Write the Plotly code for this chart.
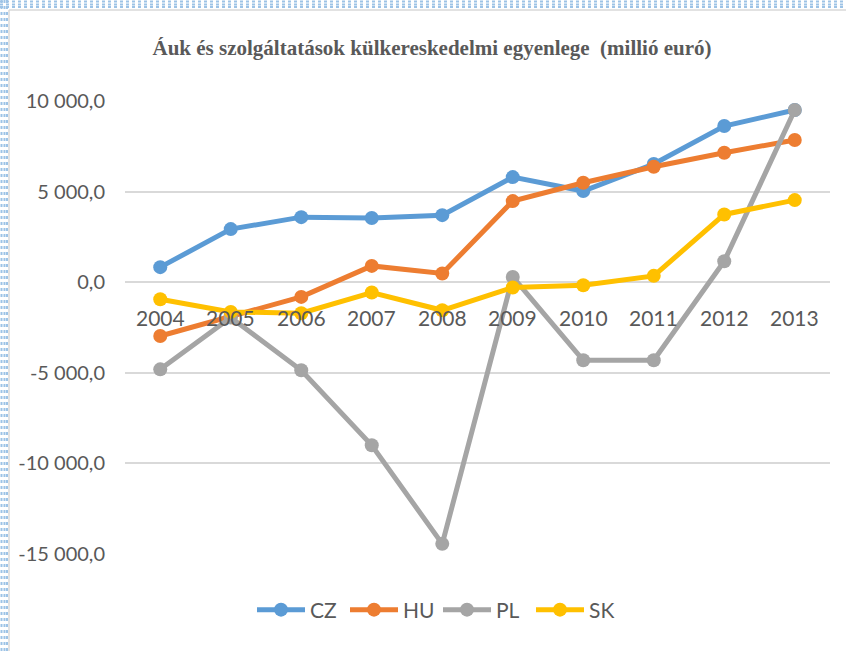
import plotly.graph_objects as go

years = ["2004", "2005", "2006", "2007", "2008", "2009", "2010", "2011", "2012", "2013"]
cz = [830, 2930, 3590, 3540, 3700, 5800, 5030, 6520, 8620, 9500]
hu = [-2970, -1880, -810, 900, 480, 4475, 5490, 6370, 7145, 7845]
pl = [-4810, -1950, -4860, -9000, -14440, 290, -4310, -4310, 1160, 9500]
sk = [-940, -1640, -1710, -570, -1550, -290, -170, 350, 3740, 4530]
ytick_vals = [10000, 5000, 0, -5000, -10000, -15000]
ytick_text = ["10 000,0", "5 000,0", "0,0", "-5 000,0", "-10 000,0", "-15 000,0"]
title_text = "Áuk és szolgáltatások külkereskedelmi egyenlege  (millió euró)"

series = [("CZ", cz, "#5b9bd5"), ("HU", hu, "#ed7d31"), ("PL", pl, "#a5a5a5"), ("SK", sk, "#ffc000")]

W, H = 846, 651
L, R, T, B = 125, 16, 101, 97
FONT = "Lato, Carlito, Calibri, sans-serif"

fig = go.Figure()
for name, vals, col in series:
    fig.add_trace(go.Scatter(
        x=years, y=vals, name=name, mode="lines+markers",
        line=dict(color=col, width=5),
        marker=dict(color=col, size=14),
    ))

# category labels drawn at the y=0 crossing
for i, yr in enumerate(years):
    fig.add_annotation(x=i, y=0, xref="x", yref="y", text=yr, showarrow=False,
                       yanchor="middle", yshift=-35,
                       font=dict(family=FONT, size=21, color="#595959"))

pw, ph = W - L - R, H - T - B
def px(x):
    return (x - L) / pw
def py(y):
    return (H - B - y) / ph

shapes = []
# gray frame
shapes.append(dict(type="line", xref="paper", yref="paper", x0=px(9), x1=px(9), y0=py(10), y1=py(651),
                   line=dict(color="#d9d9d9", width=1.5)))
shapes.append(dict(type="line", xref="paper", yref="paper", x0=px(9), x1=px(846), y0=py(10), y1=py(10),
                   line=dict(color="#d9d9d9", width=1.5)))
# dotted blue border
for d in [1.5, 4.5, 7]:
    shapes.append(dict(type="line", xref="paper", yref="paper", x0=px(0), x1=px(846), y0=py(d), y1=py(d),
                       line=dict(color="#9dc3e6", width=2, dash="dot")))
    shapes.append(dict(type="line", xref="paper", yref="paper", x0=px(d), x1=px(d), y0=py(0), y1=py(651),
                       line=dict(color="#9dc3e6", width=2, dash="dot")))

fig.update_layout(
    width=W, height=H,
    margin=dict(l=L, r=R, t=T, b=B),
    paper_bgcolor="white", plot_bgcolor="white",
    title=dict(text="<b>" + title_text + "</b>", x=432 / W, xanchor="center", y=1 - 48 / H, yanchor="middle",
               font=dict(family="Liberation Serif, Times New Roman, serif", size=21, color="#595959")),
    xaxis=dict(type="category", range=[-0.5, 9.5], showticklabels=False, showgrid=False,
               zeroline=False, showline=False, ticks=""),
    yaxis=dict(range=[-15000, 10000], tickvals=ytick_vals, ticktext=ytick_text,
               showgrid=True, gridcolor="#d9d9d9", gridwidth=1.5, zeroline=False, showline=False,
               ticks="", ticklabelstandoff=19,
               tickfont=dict(family=FONT, size=20, color="#595959")),
    legend=dict(orientation="h", x=px(252), xanchor="left", y=py(610), yanchor="middle",
                font=dict(family=FONT, size=21, color="#595959"), itemwidth=48,
                entrywidth=30, entrywidthmode="pixels", traceorder="normal"),
    shapes=shapes,
    showlegend=True,
)

fig.write_html("out.html", config={"displayModeBar": False},
               post_script="document.body.style.margin='0';document.body.style.overflow='hidden';")
